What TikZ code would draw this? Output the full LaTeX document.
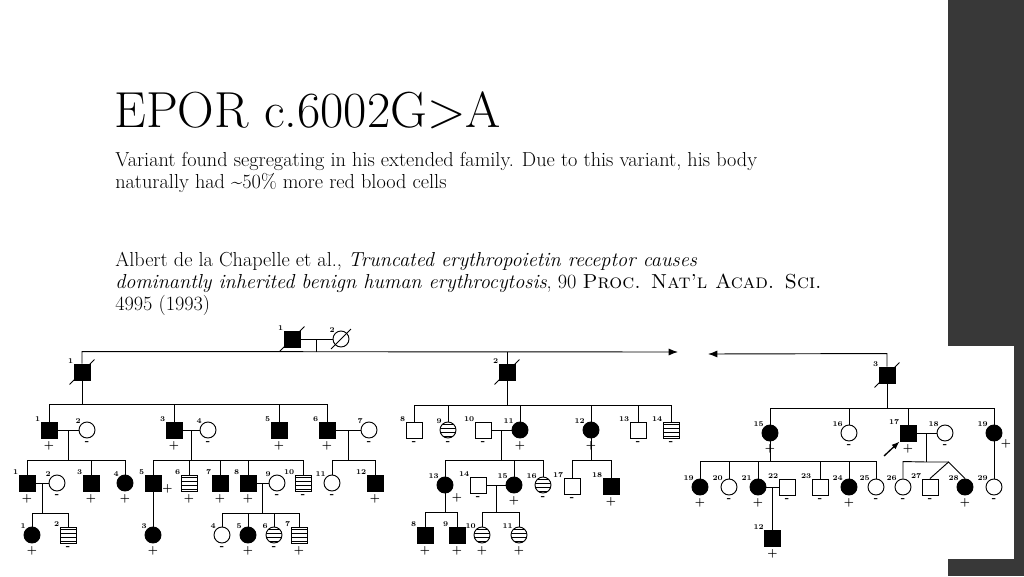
\documentclass[tikz,border=0pt]{standalone}
\usetikzlibrary{calc,arrows.meta}
\tikzset{
  sym/.style={draw, line width=0.7pt, minimum size=12pt, inner sep=0pt},
  m/.style={sym, rectangle, fill=white},
  mf/.style={sym, rectangle, fill=black},
  mh/.style={sym, rectangle, fill=white, hatch},
  f/.style={sym, circle, fill=white},
  ff/.style={sym, circle, fill=black},
  fh/.style={sym, circle, fill=white, hatch},
  hatch/.style={path picture={\foreach \i in {-4.5,-1.5,1.5,4.5}
      \draw[line width=0.6pt] ([yshift=\i pt]path picture bounding box.west) -- ++(20,0);}},
  num/.style={font=\fontsize{5.5}{6}\selectfont\bfseries, inner sep=0pt},
  sgn/.style={font=\fontsize{8}{8}\selectfont\bfseries, inner sep=0.5pt},
  line/.style={line width=0.7pt},
  dead/.style={line width=0.7pt}
}
\begin{document}
\begin{tikzpicture}[x=0.75pt, y=-0.75pt]
  \useasboundingbox (0,0) rectangle (1024,576);
  \fill[white] (0,0) rectangle (1024,576);
  \fill[black!78] (948,0) rectangle (1024,576);
  \fill[white] (0,346) rectangle (1014,559);

  % slide text
  \node[anchor=base west, inner sep=0, font=\fontsize{38}{44}\selectfont] (title) at (114,127) {EPOR c.6002G>A};
  \node[anchor=north west, inner sep=0, align=left, font=\fontsize{15.2}{16.5}\selectfont] (note) at (115,152)
    {Variant found segregating in his extended family. Due to this variant, his body\\
     naturally had \textasciitilde 50\% more red blood cells};
  \node[anchor=north west, inner sep=0, align=left, font=\fontsize{15.2}{16.5}\selectfont] (cite) at (115,252)
    {Albert de la Chapelle et al., \textit{Truncated erythropoietin receptor causes}\\
     \textit{dominantly inherited benign human erythrocytosis}, 90 \textsc{Proc. Nat'l Acad. Sci.}\\
     4995 (1993)};

  % individuals: name/style/x/y/number/sign
  \foreach \n/\s/\x/\y/\k/\g in {
    T1/mf/292/339/1/{}, T2/f/341/339/2/{},
    A1/mf/82/372/1/{}, A2/mf/507/372/2/{}, A3/mf/887/375/3/{},
    B1/mf/49/430/1/+, B2/f/87/430/2/-, B3/mf/174/430/3/+, B4/f/208/430/4/-,
    B5/mf/279/430/5/+, B6/mf/327/430/6/+, B7/f/369/430/7/-,
    B8/m/414/430/8/-, B9/fh/448/430/9/-, B10/m/483/430/10/-, B11/ff/520/430/11/+,
    B12/ff/591/430/12/+, B13/m/638/430/13/-, B14/mh/671/430/14/-,
    B15/ff/770/433/15/+, B16/f/849/433/16/-, B17/mf/908/433/17/+, B18/f/945/433/18/-,
    C1/mf/27/483/1/+, C2/f/57/483/2/-, C3/mf/91/483/3/+, C4/ff/125/483/4/+,
    C5/mf/153/483/5/{}, C6/mh/189/483/6/+, C7/mf/220/483/7/+, C8/mf/248/483/8/+,
    C9/f/277/483/9/-, C10/mh/303/483/10/-, C11/f/332/483/11/-, C12/mf/375/483/12/+,
    C13/ff/445/485/13/{}, C14/m/478/485/14/-, C15/ff/514/485/15/+, C16/fh/543/485/16/-,
    C17/m/572/486/17/-, C18/mf/611/486/18/+,
    C19/ff/700/487/19/+, C20/f/729/487/20/-, C21/ff/758/487/21/+, C22/m/787/487/22/-,
    C23/m/820/487/23/-, C24/ff/849/487/24/+, C25/f/876/487/25/-, C26/f/903/487/26/-,
    C27/m/930/487/27/-, C28/ff/965/487/28/+, C29/f/994/487/29/-,
    D1/ff/32/535/1/+, D2/mh/68/535/2/-, D3/ff/153/535/3/+,
    D4/f/222/535/4/-, D5/ff/248/535/5/+, D6/fh/274/535/6/-, D7/mh/299/535/7/+,
    D8/mf/425/535/8/+, D9/mf/457/535/9/+, D10/fh/482/535/10/+, D11/fh/519/535/11/+,
    D12/mf/772.5/538/12/+}
    \node[\s, label={[num]north west:\k}, label={[sgn, label distance=1.5pt]below:\g}] (\n) at (\x,\y) {};
  \node[ff, label={[num]north west:19}, label={[sgn]below right:+}] (B19) at (994,433) {};
  \node[sgn, anchor=west] (C5s) at ([yshift=-4pt]C5.east) {+};
  \node[sgn, anchor=north west] (C13s) at ([yshift=-1pt]C13.south east) {+};

  % deceased
  \foreach \n in {T1,T2,A1,A2,A3}
    \draw[dead] ([shift={(-4,4)}]\n.south west) -- ([shift={(4,-4)}]\n.north east);

  % generation I
  \coordinate (arrR) at (678,352);
  \coordinate (arrL) at (708,354);
  \draw[line] (T1) -- (T2);
  \draw[line] ($(T1)!.5!(T2)$) -- ++(0,13);
  \draw[line, -{Latex[length=7pt]}] (A1.north) -- ++(0,-12) -- (arrR);
  \draw[line] (A2.north) -- ++(0,-12);
  \draw[line, -{Latex[length=7pt]}] (A3.north) -- ++(0,-13) -- (arrL);

  % family of I-1
  \draw[line] (A1.south) -- ++(0,25);
  \draw[line] (B1.north) -- ++(0,-17) -| (B6.north);
  \foreach \n in {B3,B5} \draw[line] (\n.north) -- ++(0,-17);
  \draw[line] (B1) -- (B2);  \draw[line] (B3) -- (B4);  \draw[line] (B6) -- (B7);
  \draw[line] ($(B1)!.5!(B2)$) -- ++(0,31);
  \draw[line] (C1.north) -- ++(0,-14) -| (C4.north);
  \foreach \n in {C3} \draw[line] (\n.north) -- ++(0,-14);
  \draw[line] ($(B3)!.5!(B4)$) -- ++(0,31);
  \draw[line] (C5.north) -- ++(0,-14) -| (C10.north);
  \foreach \n in {C6,C7,C8} \draw[line] (\n.north) -- ++(0,-14);
  \draw[line] ($(B6)!.5!(B7)$) -- ++(0,31);
  \draw[line] (C11.north) -- ++(0,-14) -| (C12.north);
  \draw[line] (C1) -- (C2);  \draw[line] (C8) -- (C9);
  \draw[line] ($(C1)!.5!(C2)$) -- ++(0,31);
  \draw[line] (D1.north) -- ++(0,-13) -| (D2.north);
  \draw[line] (C5) -- (D3);
  \draw[line] ($(C8)!.5!(C9)$) -- ++(0,31);
  \draw[line] (D4.north) -- ++(0,-13) -| (D7.north);
  \foreach \n in {D5,D6} \draw[line] (\n.north) -- ++(0,-13);

  % family of I-2
  \draw[line] (A2.south) -- ++(0,26);
  \draw[line] (B8.north) -- ++(0,-16) -| (B14.north);
  \foreach \n in {B9,B11,B12,B13} \draw[line] (\n.north) -- ++(0,-16);
  \draw[line] (B10) -- (B11);
  \draw[line] ($(B10)!.5!(B11)$) -- ++(0,31);
  \draw[line] (C13.north) -- ++(0,-16) -| (C16.north);
  \draw[line] (C15.north) -- ++(0,-16);
  \draw[line] (B12.south) -- ++(0,23);
  \draw[line] (C17.north) -- ++(0,-17) -| (C18.north);
  \draw[line] (C14) -- (C15);
  \draw[line] (C13.south) -- ++(0,20);
  \draw[line] (D8.north) -- ++(0,-14) -| (D9.north);
  \draw[line] ($(C14)!.5!(C15)$) -- ++(0,28);
  \draw[line] (D10.north) -- ++(0,-14) -| (D11.north);

  % family of I-3
  \draw[line] (A3.south) -- ++(0,26);
  \draw[line] (B15.north) -- ++(0,-16) -| (B19.north);
  \foreach \n in {B16,B17} \draw[line] (\n.north) -- ++(0,-16);
  \draw[line] (B15.south) -- ++(0,21);
  \draw[line] (C19.north) -- ++(0,-17) -| (C25.north);
  \foreach \n in {C20,C21,C23,C24} \draw[line] (\n.north) -- ++(0,-17);
  \draw[line] (C21) -- (C22);
  \draw[line] ($(C21)!.5!(C22)$) -- (D12);
  \draw[line] (B17) -- (B18);
  \draw[line] ($(B17)!.5!(B18)$) -- ++(0,29) coordinate (tw);
  \draw[line] (C26.north) -- ++(0,-17) -- (tw) -- ++(22,0) coordinate (twin);
  \draw[line] (C27.north) -- (twin) -- (C28.north);
  \draw[line] (B19) -- (C29);
  \coordinate (arr) at (884,456);
  \draw[line width=1pt, -{Latex[length=6pt]}] (arr) -- (B17.south west);
\end{tikzpicture}
\end{document}
